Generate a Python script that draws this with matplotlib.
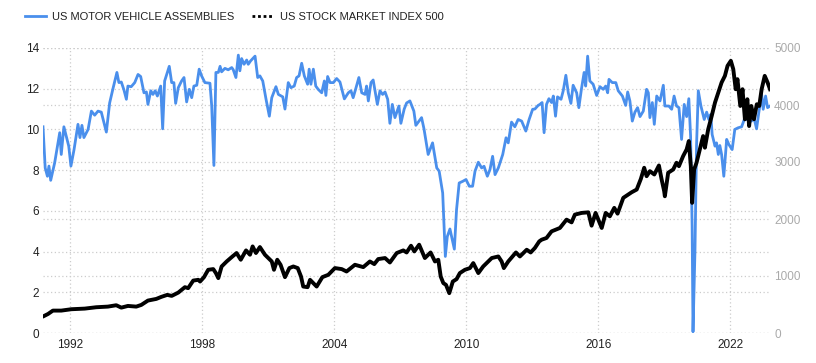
import numpy as np
import matplotlib
matplotlib.use("Agg")
import matplotlib.pyplot as plt
from matplotlib.lines import Line2D

plt.rcParams['font.family'] = ['Liberation Sans', 'DejaVu Sans']

#---------data (decimal years)------------------------------
assembly_years = [
  1990.75, 1990.85, 1990.95, 1991.02, 1991.10, 1991.28, 1991.51, 1991.58, 1991.70, 1991.92,
  1992.02, 1992.16, 1992.34, 1992.43, 1992.52, 1992.61, 1992.80, 1992.95, 1993.10, 1993.25,
  1993.40, 1993.63, 1993.78, 1993.93, 1994.11, 1994.20, 1994.31, 1994.43, 1994.54, 1994.61,
  1994.76, 1994.92, 1995.07, 1995.19, 1995.34, 1995.45, 1995.52, 1995.65, 1995.75, 1995.85,
  1995.95, 1996.10, 1996.19, 1996.28, 1996.40, 1996.49, 1996.60, 1996.70, 1996.78, 1996.90,
  1997.05, 1997.16, 1997.28, 1997.40, 1997.51, 1997.61, 1997.74, 1997.85, 1997.96, 1998.11,
  1998.34, 1998.42, 1998.52, 1998.61, 1998.72, 1998.80, 1998.87, 1999.02, 1999.17, 1999.33,
  1999.40, 1999.52, 1999.63, 1999.70, 1999.78, 1999.89, 2000.01, 2000.08, 2000.19, 2000.39,
  2000.51, 2000.61, 2000.74, 2000.89, 2001.04, 2001.15, 2001.34, 2001.45, 2001.65, 2001.75,
  2001.90, 2002.02, 2002.17, 2002.28, 2002.39, 2002.51, 2002.63, 2002.78, 2002.85, 2002.93,
  2003.04, 2003.15, 2003.26, 2003.42, 2003.54, 2003.61, 2003.69, 2003.80, 2003.95, 2004.10,
  2004.25, 2004.45, 2004.63, 2004.75, 2004.85, 2004.96, 2005.11, 2005.24, 2005.39, 2005.46,
  2005.54, 2005.66, 2005.76, 2005.95, 2006.07, 2006.19, 2006.30, 2006.42, 2006.52, 2006.63,
  2006.75, 2006.93, 2007.02, 2007.17, 2007.28, 2007.43, 2007.61, 2007.70, 2007.96, 2008.07,
  2008.26, 2008.46, 2008.65, 2008.76, 2008.92, 2009.04, 2009.13, 2009.25, 2009.45, 2009.55,
  2009.67, 2009.83, 2009.98, 2010.13, 2010.28, 2010.39, 2010.54, 2010.69, 2010.80, 2010.95,
  2011.07, 2011.19, 2011.30, 2011.45, 2011.65, 2011.80, 2011.90, 2012.05, 2012.20, 2012.35,
  2012.51, 2012.70, 2012.85, 2013.01, 2013.11, 2013.26, 2013.34, 2013.44, 2013.53, 2013.64,
  2013.75, 2013.87, 2013.95, 2014.05, 2014.14, 2014.30, 2014.40, 2014.52, 2014.63, 2014.75,
  2014.85, 2015.01, 2015.11, 2015.23, 2015.35, 2015.42, 2015.51, 2015.61, 2015.76, 2015.92,
  2016.07, 2016.22, 2016.33, 2016.42, 2016.48, 2016.63, 2016.79, 2016.90, 2017.09, 2017.24,
  2017.33, 2017.43, 2017.54, 2017.66, 2017.78, 2017.89, 2018.04, 2018.19, 2018.27, 2018.34,
  2018.45, 2018.54, 2018.65, 2018.80, 2018.95, 2019.02, 2019.20, 2019.33, 2019.44, 2019.55,
  2019.66, 2019.78, 2019.90, 2020.01, 2020.11, 2020.19, 2020.26, 2020.30, 2020.39, 2020.46,
  2020.54, 2020.66, 2020.81, 2020.92, 2021.02, 2021.11, 2021.17, 2021.30, 2021.37, 2021.45,
  2021.52, 2021.60, 2021.70, 2021.83, 2021.93, 2022.08, 2022.20, 2022.35, 2022.51, 2022.63,
  2022.74, 2022.84, 2022.96, 2023.07, 2023.19, 2023.29, 2023.42, 2023.49, 2023.60, 2023.69,
  2023.80]
assemblies = [
  10.13, 8.11, 7.70, 8.20, 7.50, 8.36, 9.84, 8.77, 10.13, 9.18,
  8.20, 9.00, 10.25, 9.60, 10.20, 9.60, 10.00, 10.90, 10.70, 10.90,
  10.85, 9.87, 11.30, 12.00, 12.80, 12.30, 12.33, 11.94, 11.48, 12.13,
  12.10, 12.30, 12.70, 12.60, 11.80, 11.84, 11.23, 11.90, 11.72, 11.90,
  11.64, 12.13, 10.03, 12.38, 12.80, 13.10, 12.30, 12.30, 11.28, 12.05,
  12.38, 12.55, 11.35, 11.97, 11.56, 12.13, 12.17, 12.96, 12.63, 12.30,
  12.27, 11.15, 8.23, 12.80, 12.80, 13.10, 12.83, 13.00, 12.93, 13.04,
  12.93, 12.55, 13.65, 12.88, 13.48, 13.20, 13.41, 13.20, 13.37, 13.60,
  12.55, 12.63, 12.38, 11.48, 10.65, 11.56, 12.10, 11.72, 11.60, 11.00,
  12.30, 12.05, 12.13, 12.55, 12.63, 13.25, 12.63, 12.22, 12.96, 12.22,
  12.96, 12.13, 11.97, 11.80, 12.38, 11.67, 12.60, 12.30, 12.30, 12.50,
  12.33, 11.50, 11.80, 11.90, 11.56, 11.97, 12.55, 11.80, 11.72, 12.13,
  11.40, 12.30, 12.43, 11.23, 11.90, 11.72, 11.84, 11.48, 10.30, 11.23,
  10.58, 11.15, 10.30, 11.00, 11.30, 11.40, 10.90, 10.20, 10.58, 10.03,
  8.77, 9.34, 8.11, 7.95, 6.88, 3.76, 4.74, 5.11, 4.12, 6.06,
  7.37, 7.45, 7.54, 7.21, 7.21, 7.95, 8.39, 8.11, 8.19, 7.70,
  8.03, 8.68, 7.78, 8.11, 8.77, 9.59, 9.34, 10.36, 10.13, 10.49,
  10.41, 9.92, 10.49, 10.99, 11.00, 11.18, 11.23, 11.32, 9.84, 11.23,
  11.51, 11.32, 11.64, 10.65, 11.60, 11.48, 11.90, 12.66, 11.80, 11.28,
  12.17, 11.80, 11.07, 12.00, 12.80, 12.13, 13.60, 12.38, 12.22, 11.67,
  12.10, 11.97, 12.13, 11.80, 12.46, 12.30, 12.30, 11.90, 11.64, 11.18,
  11.84, 11.40, 10.41, 10.85, 11.07, 10.63, 10.90, 11.97, 11.80, 10.58,
  11.32, 10.25, 11.64, 11.40, 12.17, 11.15, 11.15, 10.99, 11.64, 11.15,
  11.07, 9.51, 11.23, 10.63, 11.51, 9.67, 5.24, 0.06, 4.09, 9.18,
  11.90, 11.15, 10.49, 10.85, 10.49, 10.74, 9.75, 9.18, 9.34, 8.77,
  9.21, 8.77, 7.70, 9.51, 9.26, 9.01, 10.00, 10.08, 10.13, 10.49,
  10.49, 10.57, 10.41, 10.58, 10.03, 10.82, 11.72, 10.99, 11.64, 11.07,
  11.15]

index_years = [
  1990.80, 1990.98, 1991.20, 1991.58, 1992.04, 1992.65, 1993.17, 1993.70, 1994.08, 1994.31,
  1994.61, 1994.99, 1995.22, 1995.52, 1995.90, 1996.13, 1996.40, 1996.60, 1996.90, 1997.20,
  1997.35, 1997.58, 1997.81, 1997.89, 1998.07, 1998.26, 1998.49, 1998.61, 1998.72, 1998.87,
  1999.10, 1999.33, 1999.55, 1999.74, 1999.98, 2000.16, 2000.28, 2000.43, 2000.61, 2000.84,
  2000.99, 2001.15, 2001.25, 2001.40, 2001.55, 2001.75, 2001.95, 2002.13, 2002.33, 2002.48,
  2002.58, 2002.78, 2002.89, 2003.19, 2003.45, 2003.72, 2004.02, 2004.33, 2004.55, 2004.93,
  2005.31, 2005.61, 2005.81, 2005.99, 2006.30, 2006.52, 2006.83, 2007.13, 2007.28, 2007.48,
  2007.63, 2007.85, 2008.11, 2008.37, 2008.57, 2008.72, 2008.83, 2008.95, 2009.07, 2009.22,
  2009.38, 2009.55, 2009.70, 2009.93, 2010.16, 2010.31, 2010.54, 2010.76, 2011.15, 2011.45,
  2011.60, 2011.70, 2011.90, 2012.25, 2012.43, 2012.74, 2012.92, 2013.11, 2013.31, 2013.42,
  2013.64, 2013.87, 2014.25, 2014.55, 2014.78, 2014.93, 2015.24, 2015.54, 2015.69, 2015.87,
  2016.15, 2016.33, 2016.52, 2016.72, 2016.87, 2017.13, 2017.51, 2017.74, 2017.93, 2018.08,
  2018.19, 2018.34, 2018.54, 2018.75, 2018.87, 2018.99, 2019.02, 2019.17, 2019.40, 2019.55,
  2019.66, 2019.85, 2020.01, 2020.11, 2020.20, 2020.26, 2020.35, 2020.46, 2020.61, 2020.76,
  2020.84, 2020.99, 2021.15, 2021.30, 2021.45, 2021.60, 2021.75, 2021.87, 2022.02, 2022.13,
  2022.24, 2022.32, 2022.45, 2022.55, 2022.66, 2022.77, 2022.85, 2022.95, 2023.07, 2023.20,
  2023.31, 2023.42, 2023.56, 2023.69, 2023.80]
index_500 = [
  299, 334, 393, 393, 417, 428, 452, 463, 487, 445,
  475, 463, 493, 569, 598, 634, 669, 651, 709, 804,
  787, 920, 933, 903, 980, 1109, 1121, 1051, 963, 1167,
  1255, 1332, 1403, 1285, 1449, 1373, 1519, 1403, 1508, 1373,
  1315, 1255, 1109, 1285, 1197, 980, 1139, 1167, 1139, 991,
  815, 804, 933, 815, 980, 1021, 1139, 1121, 1079, 1197,
  1156, 1255, 1209, 1297, 1315, 1237, 1403, 1449, 1413, 1531,
  1431, 1549, 1315, 1413, 1255, 1285, 991, 875, 845, 699,
  903, 945, 1051, 1109, 1139, 1227, 1051, 1167, 1315, 1343,
  1255, 1139, 1255, 1413, 1343, 1461, 1413, 1491, 1607, 1637,
  1667, 1783, 1843, 1989, 1941, 2077, 2107, 2117, 1883, 2107,
  1843, 2107, 2047, 2195, 2094, 2371, 2469, 2517, 2705, 2899,
  2751, 2839, 2781, 2939, 2700, 2487, 2399, 2811, 2869, 2987,
  2927, 3103, 3221, 3367, 2927, 2283, 2869, 2987, 3221, 3455,
  3251, 3573, 3807, 4043, 4219, 4395, 4511, 4687, 4775, 4629,
  4277, 4453, 3983, 4277, 3749, 4101, 3631, 3983, 3749, 4013,
  3983, 4277, 4511, 4395, 4277]

year_ticks = [1992, 1998, 2004, 2010, 2016, 2022]
left_ticks = [0, 2, 4, 6, 8, 10, 12, 14]
right_ticks = [0, 1000, 2000, 3000, 4000, 5000]

#-----------------plot--------------------
blue = '#4a8fec'
grid_kw = dict(color='#cccccc', linestyle=(0, (1, 2)), linewidth=0.9)

fig = plt.figure(figsize=(8.16, 3.63), dpi=100)
ax = fig.add_axes([43/816, 30/363, 727/816, 285/363])
ax2 = ax.twinx()

for t in left_ticks:
  ax.axhline(t, zorder=0, **grid_kw)
for t in right_ticks:
  ax.axhline(t * 14 / 5000, zorder=0, **grid_kw)
for t in year_ticks:
  ax.axvline(t, zorder=0, **grid_kw)

ax.plot(assembly_years, assemblies, color=blue, linewidth=2, zorder=3)
ax2.plot(index_years, index_500, color='black', linewidth=2.8, zorder=3)

ax.set_xlim(1990.75, 2023.8)
ax.set_ylim(0, 14)
ax2.set_ylim(0, 5000)

ax.set_xticks(year_ticks)
ax.set_xticklabels([str(y) for y in year_ticks])
ax.set_yticks(left_ticks)
ax2.set_yticks(right_ticks)

ax.tick_params(axis='both', length=0, labelsize=8.5, colors='#222222', pad=4)
ax.tick_params(axis='y', pad=3)
ax2.tick_params(axis='y', length=0, labelsize=8.5, colors='#aaaaaa', pad=3)

for a in (ax, ax2):
  for s in a.spines.values():
    s.set_visible(False)

handles = [Line2D([], [], color=blue, linewidth=2),
           Line2D([], [], color='black', linewidth=2, linestyle=(0, (1, 1)))]
fig.legend(handles, ['US MOTOR VEHICLE ASSEMBLIES', 'US STOCK MARKET INDEX 500'],
           loc='upper left', bbox_to_anchor=(0.018, 0.995), ncol=2, frameon=False,
           fontsize=8, handlelength=1.9, handletextpad=0.6, columnspacing=1.6,
           labelcolor='#222222')

fig.savefig("out.png", dpi=100)
